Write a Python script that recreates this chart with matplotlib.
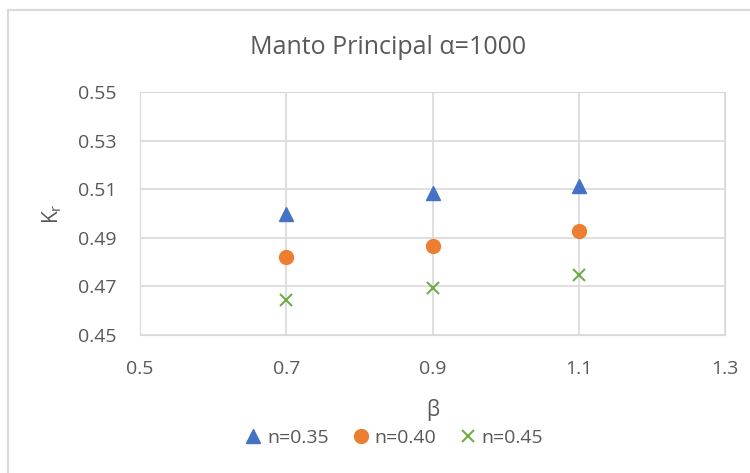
import matplotlib.pyplot as plt
from matplotlib.lines import Line2D

beta = [0.7, 0.9, 1.1]
kr_n035 = [0.500, 0.5085, 0.5113]
kr_n040 = [0.4819, 0.4866, 0.4929]
kr_n045 = [0.4642, 0.4694, 0.4745]

text_color = "#595959"
plt.rcParams["font.family"] = ["Open Sans", "DejaVu Sans"]

fig = plt.figure(figsize=(7.5, 4.73), dpi=100)
ax = fig.add_axes([140 / 750, 1 - 335 / 473, 585 / 750, 243 / 473])

# chart border (Excel style, cropped at right/bottom)
fig.add_artist(Line2D([8 / 750, 8 / 750], [0, 1 - 10 / 473], transform=fig.transFigure,
                      color="#D9D9D9", lw=1.5))
fig.add_artist(Line2D([8 / 750, 1], [1 - 10 / 473, 1 - 10 / 473], transform=fig.transFigure,
                      color="#D9D9D9", lw=1.5))

ax.plot(beta, kr_n035, ls="none", marker="^", ms=10, color="#4472C4", label="n=0.35")
ax.plot(beta, kr_n040, ls="none", marker="o", ms=10, color="#ED7D31", label="n=0.40")
ax.plot(beta, kr_n045, ls="none", marker="x", ms=9, mew=1.5, color="#70AD47", label="n=0.45")

ax.set(xlim=(0.5, 1.3), ylim=(0.45, 0.55),
       xticks=[0.5, 0.7, 0.9, 1.1, 1.3],
       yticks=[0.45, 0.47, 0.49, 0.51, 0.53, 0.55])
ax.set_xticklabels(["0.5", "0.7", "0.9", "1.1", "1.3"])
ax.set_yticklabels(["0.45", "0.47", "0.49", "0.51", "0.53", "0.55"])
ax.grid(True, color="#D9D9D9", lw=1.2)
ax.set_axisbelow(True)
for s in ax.spines.values():
    s.set_color("#D9D9D9")
ax.tick_params(axis="y", length=0, labelsize=14, labelcolor=text_color, pad=17)
ax.tick_params(axis="x", length=0, labelsize=14, labelcolor=text_color, pad=18)

fig.text(388 / 750, 1 - 47 / 473, "Manto Principal α=1000", fontsize=18, color=text_color,
         ha="center", va="center")
ax.set_xlabel("β", fontsize=15, color=text_color, labelpad=15)
ax.set_ylabel("K$_\\mathregular{r}$", fontsize=15, color=text_color, labelpad=10)

ax.legend(loc="center", bbox_to_anchor=(392 / 750, 1 - 438 / 473),
          bbox_transform=fig.transFigure, ncol=3, frameon=False,
          fontsize=14, labelcolor=text_color, handletextpad=0.05, columnspacing=1.0,
          handlelength=1.3, borderpad=0)

plt.savefig("out.png")
plt.close()
